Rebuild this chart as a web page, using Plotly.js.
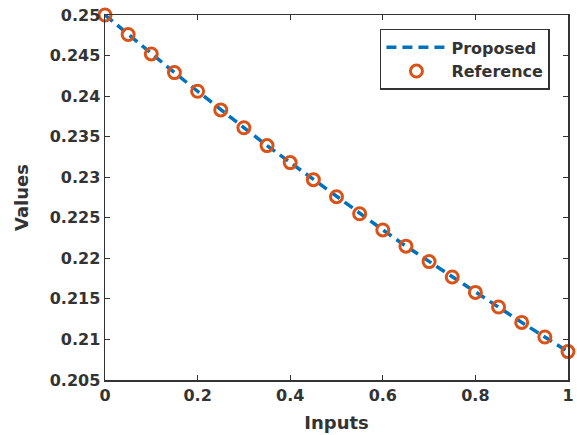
<!DOCTYPE html>
<html>
<head>
<meta charset="utf-8">
<script src="https://cdn.plot.ly/plotly-3.0.1.min.js"></script>
<style>html,body{margin:0;padding:0;background:#fff;}#chart{width:577px;height:435px;}</style>
</head>
<body>
<div id="chart"></div>
<script>
const inputs = [0, 0.05, 0.1, 0.15, 0.2, 0.25, 0.3, 0.35, 0.4, 0.45, 0.5, 0.55, 0.6, 0.65, 0.7, 0.75, 0.8, 0.85, 0.9, 0.95, 1.0];
const proposed = [0.25, 0.2476, 0.2452, 0.2429, 0.2406, 0.2383, 0.2361, 0.2339, 0.2318, 0.2297, 0.2276, 0.2255, 0.2235, 0.2215, 0.2196, 0.2177, 0.2158, 0.2140, 0.2121, 0.2103, 0.2085];
const reference = [0.25, 0.2476, 0.2452, 0.2429, 0.2406, 0.2383, 0.2361, 0.2339, 0.2318, 0.2297, 0.2276, 0.2255, 0.2235, 0.2215, 0.2196, 0.2177, 0.2158, 0.2140, 0.2121, 0.2103, 0.2085];
const xTicks = [0, 0.2, 0.4, 0.6, 0.8, 1];
const xTickText = ['0', '0.2', '0.4', '0.6', '0.8', '1'];
const yTicks = [0.205, 0.21, 0.215, 0.22, 0.225, 0.23, 0.235, 0.24, 0.245, 0.25];
const yTickText = ['0.205', '0.21', '0.215', '0.22', '0.225', '0.23', '0.235', '0.24', '0.245', '0.25'];

const fontFam = 'DejaVu Sans, Arial, sans-serif';
const txtColor = '#333333';

const traces = [
  {x: inputs, y: proposed, name: 'Proposed', mode: 'lines',
   line: {color: '#0072BD', width: 3.5, dash: '10px,6px'}},
  {x: inputs, y: reference, name: 'Reference', mode: 'markers', cliponaxis: false,
   marker: {symbol: 'circle-open', size: 12, color: '#D95319', line: {width: 3, color: '#D95319'}}}
];

const axisCommon = {
  showgrid: false, zeroline: false, showline: true, mirror: 'ticks',
  linecolor: '#333333', linewidth: 1.5, ticks: 'inside', ticklen: 5,
  tickcolor: '#333333', tickwidth: 1,
  tickfont: {family: fontFam, size: 16, color: txtColor, weight: 'bold'}
};

const layout = {
  width: 577, height: 435,
  margin: {l: 105, r: 9, t: 15, b: 55},
  paper_bgcolor: '#ffffff', plot_bgcolor: '#ffffff',
  showlegend: true,
  xaxis: Object.assign({}, axisCommon, {
    range: [0, 1], tickvals: xTicks, ticktext: xTickText,
    title: {text: 'Inputs', font: {family: fontFam, size: 18, color: txtColor, weight: 'bold'}, standoff: 12}
  }),
  yaxis: Object.assign({}, axisCommon, {
    range: [0.205, 0.25], tickvals: yTicks, ticktext: yTickText,
    title: {text: 'Values', font: {family: fontFam, size: 18, color: txtColor, weight: 'bold'}, standoff: 16}
  }),
  legend: {
    x: 0.961, y: 0.962, xanchor: 'right', yanchor: 'top',
    bgcolor: '#ffffff', bordercolor: '#333333', borderwidth: 1.5,
    font: {family: fontFam, size: 16, color: txtColor, weight: 'bold'},
    tracegroupgap: 0, itemwidth: 60
  }
};

Plotly.newPlot('chart', traces, layout, {staticPlot: true, displayModeBar: false});
</script>
</body>
</html>
